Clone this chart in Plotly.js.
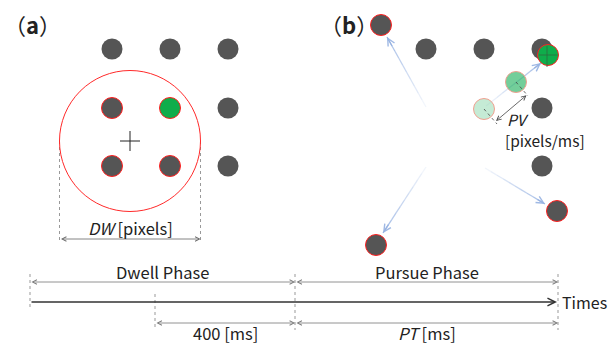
<!DOCTYPE html>
<html>
<head>
<meta charset="utf-8">
<script src="https://cdn.plot.ly/plotly-3.0.1.min.js"></script>
<style>html,body{margin:0;padding:0;background:#fff;}#chart{width:608px;height:345px;}</style>
</head>
<body>
<div id="chart"></div>
<script>
// ---------- data (diagram coordinates) ----------
// Panel (a)
const aGrayX = [112, 170, 228, 228, 228];
const aGrayY = [49, 49, 49, 108, 166];
const aSelX = [112, 112, 170];
const aSelY = [108, 166, 166];
const aTargetX = [170];
const aTargetY = [108];
const aCursor = [130, 141];
const aDwellRadius = 70.5;
// Panel (b)
const bGrayX = [426, 484, 542, 542, 542];
const bGrayY = [49, 49, 49, 108, 166];
const bMovedX = [381, 557, 376];
const bMovedY = [25, 211, 245];
const bTrailX = [484, 516, 548];
const bTrailY = [109, 82, 55];
const bArrowTailX = [426, 426, 485, 486];
const bArrowTailY = [107, 167, 168, 106];
const bArrowHeadX = [387, 383, 545, 541];
const bArrowHeadY = [37, 233, 204, 63];
// Timeline (x positions) and rows (y)
const tStart = 30, tFix = 155, tSwitch = 295, tEnd = 558;
const rowPhase = 282, rowTime = 302, rowDur = 323;
// Labels
const phaseLabels = ["Dwell Phase", "Pursue Phase"];
const durLabels = ["400 [ms]", "<i>PT</i> [ms]"];

const FONT = "Noto Sans CJK JP, Noto Sans, sans-serif";
const traces = [];
const shapes = [];
const ann = [];

function dots(xs, ys, fill, line, lw) {
  traces.push({x: xs, y: ys, type: 'scatter', mode: 'markers', hoverinfo: 'skip',
    marker: {size: 21, color: fill, line: {color: line, width: lw}}});
}
function seg(x0, y0, x1, y1, color, width, dash) {
  traces.push({x: [x0, x1], y: [y0, y1], type: 'scatter', mode: 'lines', hoverinfo: 'skip',
    line: {color: color, width: width, dash: dash || 'solid'}});
}
function arrow(x0, y0, x1, y1, color, width, both) {
  ann.push({x: x1, y: y1, ax: x0, ay: y0, xref: 'x', yref: 'y', axref: 'x', ayref: 'y',
    text: '', showarrow: true, arrowhead: 5, startarrowhead: 5, arrowsize: 1.1, startarrowsize: 1.1,
    arrowwidth: width, arrowcolor: color, arrowside: both ? 'end+start' : 'end', standoff: 0, startstandoff: 0});
}
function label(x, y, text, size, opts) {
  ann.push(Object.assign({x: x, y: y, xref: 'x', yref: 'y', text: text, showarrow: false,
    font: {family: FONT, size: size, color: '#222'}, xanchor: 'center', yanchor: 'middle'}, opts || {}));
}

// ---------- panel (a) ----------
dots(aGrayX, aGrayY, '#555555', '#555555', 0);
dots(aSelX, aSelY, '#555555', '#ff2020', 1);
dots(aTargetX, aTargetY, '#0fad4b', '#ff2020', 1);
shapes.push({type: 'circle', xref: 'x', yref: 'y',
  x0: aCursor[0] - aDwellRadius, x1: aCursor[0] + aDwellRadius,
  y0: aCursor[1] - aDwellRadius, y1: aCursor[1] + aDwellRadius,
  line: {color: '#ff2a2a', width: 1}});
seg(aCursor[0] - 10, aCursor[1], aCursor[0] + 10, aCursor[1], '#222', 1);
seg(aCursor[0], aCursor[1] - 10, aCursor[0], aCursor[1] + 10, '#222', 1);
seg(aCursor[0] - aDwellRadius, aCursor[1], aCursor[0] - aDwellRadius, 243, '#999', 1, 'dot');
seg(aCursor[0] + aDwellRadius, aCursor[1], aCursor[0] + aDwellRadius, 243, '#999', 1, 'dot');
arrow(aCursor[0] - aDwellRadius, 239, aCursor[0] + aDwellRadius, 239, '#666', 0.8, true);
label(aCursor[0], 228, '<i>DW</i> [pixels]', 16.5);
label(2, 24, '（<b>a</b>）', 22, {xanchor: 'left'});

// ---------- panel (b) ----------
dots(bGrayX, bGrayY, '#555555', '#555555', 0);
dots(bMovedX, bMovedY, '#555555', '#ff2020', 1);
// fading blue arrows
for (let i = 0; i < bArrowTailX.length; i++) {
  const n = 10;
  for (let k = 0; k < n; k++) {
    const f0 = k / n, f1 = (k + 1) / n;
    const a = 0.05 + 0.8 * f1;
    seg(bArrowTailX[i] + (bArrowHeadX[i] - bArrowTailX[i]) * f0, bArrowTailY[i] + (bArrowHeadY[i] - bArrowTailY[i]) * f0,
        bArrowTailX[i] + (bArrowHeadX[i] - bArrowTailX[i]) * f1, bArrowTailY[i] + (bArrowHeadY[i] - bArrowTailY[i]) * f1,
        'rgba(150,178,226,' + a.toFixed(2) + ')', 1.3);
  }
  const fx = 0.85;
  arrow(bArrowTailX[i] + (bArrowHeadX[i] - bArrowTailX[i]) * fx, bArrowTailY[i] + (bArrowHeadY[i] - bArrowTailY[i]) * fx,
        bArrowHeadX[i], bArrowHeadY[i], 'rgba(150,178,226,0.9)', 1.3, false);
}
dots([bTrailX[0]], [bTrailY[0]], 'rgba(110,205,150,0.4)', '#f0a090', 1);
dots([bTrailX[1]], [bTrailY[1]], 'rgba(40,180,100,0.65)', '#f0a090', 1);
dots([bTrailX[2]], [bTrailY[2]], '#0fad4b', '#ff2020', 1);
seg(bTrailX[2] - 9, bTrailY[2], bTrailX[2] + 9, bTrailY[2], '#2d6b3f', 0.8);
seg(bTrailX[2] - 1, bTrailY[2] - 9, bTrailX[2] - 1, bTrailY[2] + 12, '#2d6b3f', 0.8);
// PV measure
seg(bTrailX[0], bTrailY[0], bTrailX[0] + 13, bTrailY[0] + 15, '#444', 0.8, 'dot');
seg(bTrailX[1], bTrailY[1], bTrailX[1] + 12, bTrailY[1] + 14, '#444', 0.8, 'dot');
arrow(bTrailX[1] + 12, bTrailY[1] + 12, bTrailX[0] + 12, bTrailY[0] + 12, '#444', 0.8, true);
label(505, 119, '<i>PV</i>', 15.5, {xanchor: 'left'});
label(503, 140, '[pixels/ms]', 15.5, {xanchor: 'left'});
label(318, 24, '（<b>b</b>）', 22, {xanchor: 'left'});

// ---------- timeline ----------
seg(tStart, 274, tStart, 307, '#999', 1, 'dot');
seg(tFix, 294, tFix, 328, '#999', 1, 'dot');
seg(tSwitch, 274, tSwitch, 330, '#999', 1, 'dot');
seg(tEnd, 274, tEnd, 330, '#999', 1, 'dot');
arrow(tStart, rowPhase, tSwitch, rowPhase, '#777', 0.8, true);
arrow(tSwitch, rowPhase, tEnd, rowPhase, '#777', 0.8, true);
arrow(tStart, rowTime, tEnd - 1, rowTime, '#333', 1.4, false);
arrow(tFix, rowDur, tSwitch, rowDur, '#777', 0.8, true);
arrow(tSwitch, rowDur, tEnd, rowDur, '#777', 0.8, true);
label((tStart + tSwitch) / 2, 272, phaseLabels[0], 16.5);
label((tSwitch + tEnd) / 2, 272, phaseLabels[1], 16.5);
label((tFix + tSwitch) / 2, 333, durLabels[0], 16.5);
label((tSwitch + tEnd) / 2, 333, durLabels[1], 16.5);
label(560, rowTime, 'Times', 16, {xanchor: 'left'});

Plotly.newPlot('chart', traces, {
  width: 608, height: 345,
  margin: {l: 0, r: 0, t: 0, b: 0, pad: 0},
  paper_bgcolor: '#fff', plot_bgcolor: '#fff',
  showlegend: false,
  xaxis: {range: [0, 608], visible: false, fixedrange: true},
  yaxis: {range: [345, 0], visible: false, fixedrange: true},
  shapes: shapes,
  annotations: ann
}, {staticPlot: true});
</script>
</body>
</html>
